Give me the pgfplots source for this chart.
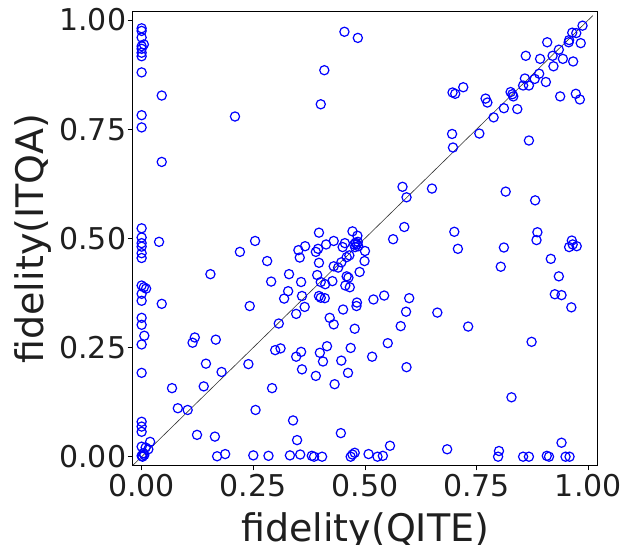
\documentclass[border=0pt]{standalone}
\usepackage{fontspec}
\setmainfont{DejaVu Sans}
\usepackage{pgfplots}
\pgfplotsset{compat=1.18}

\pgfplotstableread{
x y
0 0.981
0 0.975
0 0.960
0.005 0.944
0 0.940
0 0.934
0 0.925
0 0.917
0 0.880
0 0.782
0 0.754
0 0.523
0 0.502
0 0.489
0 0.481
0 0.466
0 0.455
0 0.392
0.005 0.388
0.010 0.385
0 0.373
0 0.357
0 0.318
0 0.302
0.006 0.277
0 0.257
0 0.192
0 0.080
0 0.069
0 0.057
0 0.023
0.019 0.034
0.009 0.021
0.015 0.017
0.004 0.008
0 0.002
0.002 0.000
0.006 0.004
}\zerocol

\pgfplotstableread{
x y
0.039 0.492
0.045 0.827
0.045 0.675
0.045 0.350
0.209 0.779
0.220 0.469
0.154 0.418
0.242 0.345
0.119 0.273
0.114 0.261
0.166 0.268
0.144 0.213
0.179 0.194
0.239 0.212
0.068 0.157
0.139 0.161
0.081 0.111
0.103 0.107
0.124 0.050
0.164 0.046
0.169 0.001
0.187 0.006
0.250 0.003
0.254 0.494
0.281 0.448
0.351 0.473
0.366 0.482
0.354 0.456
0.390 0.469
0.395 0.476
0.413 0.486
0.430 0.494
0.397 0.444
0.450 0.480
0.455 0.489
0.479 0.490
0.482 0.486
0.485 0.482
0.478 0.480
0.484 0.492
0.476 0.486
0.465 0.461
0.459 0.457
0.499 0.448
0.500 0.471
0.447 0.445
0.430 0.436
0.440 0.433
0.330 0.418
0.290 0.401
0.357 0.400
0.393 0.416
0.401 0.400
0.411 0.395
0.427 0.402
0.459 0.413
0.463 0.410
0.456 0.392
0.466 0.388
0.488 0.423
0.328 0.379
0.319 0.362
0.359 0.368
0.397 0.368
0.401 0.364
0.410 0.363
0.365 0.343
0.346 0.327
0.307 0.305
0.421 0.318
0.430 0.303
0.451 0.337
0.482 0.353
0.481 0.345
0.477 0.293
0.299 0.244
0.311 0.248
0.346 0.229
0.357 0.240
0.415 0.253
0.399 0.238
0.406 0.218
0.468 0.249
0.447 0.220
0.359 0.200
0.390 0.185
0.432 0.166
0.462 0.192
0.292 0.157
0.255 0.107
0.339 0.083
0.348 0.038
0.446 0.054
0.284 0.002
0.332 0.003
0.355 0.005
0.381 0.002
0.386 0.000
0.404 0.000
0.468 0.000
0.472 0.005
0.477 0.009
0.508 0.006
0.528 0.000
0.540 0.002
0.556 0.025
0.684 0.017
0.409 0.885
0.401 0.807
0.454 0.973
0.484 0.959
0.397 0.513
0.472 0.516
0.483 0.506
}\lowleft

\pgfplotstableread{
x y
0.584 0.618
0.593 0.594
0.650 0.614
0.588 0.526
0.563 0.498
0.700 0.515
0.708 0.476
0.811 0.479
0.815 0.607
0.881 0.587
0.886 0.514
0.884 0.496
0.916 0.453
0.804 0.435
0.934 0.413
0.963 0.495
0.957 0.480
0.974 0.482
0.965 0.486
0.925 0.372
0.940 0.370
0.962 0.342
0.873 0.263
0.828 0.136
0.940 0.032
0.800 0.013
0.798 0.000
0.854 0.000
0.867 0.000
0.907 0.002
0.912 0.000
0.949 0.000
0.958 0.000
0.662 0.330
0.731 0.298
0.599 0.363
0.592 0.332
0.580 0.299
0.593 0.205
0.551 0.260
0.543 0.369
0.519 0.360
0.516 0.229
0.987 0.987
0.964 0.971
0.973 0.970
0.957 0.954
0.956 0.949
0.983 0.947
0.908 0.949
0.934 0.932
0.920 0.918
0.943 0.911
0.966 0.905
0.860 0.918
0.892 0.911
0.922 0.894
0.890 0.877
0.880 0.865
0.858 0.866
0.905 0.858
0.854 0.850
0.867 0.850
0.826 0.835
0.830 0.830
0.832 0.825
0.937 0.825
0.972 0.831
0.981 0.818
0.811 0.798
0.841 0.796
0.788 0.777
0.867 0.724
0.770 0.820
0.774 0.811
0.696 0.834
0.702 0.831
0.720 0.846
0.695 0.739
0.697 0.708
0.756 0.740
}\upright

\begin{document}
\begin{tikzpicture}
\begin{axis}[
    scale only axis,
    width=465pt, height=453.6pt,
    xmin=-0.02, xmax=1.021,
    ymin=-0.0197, ymax=1.019,
    xtick={0,0.25,0.5,0.75,1},
    ytick={0,0.25,0.5,0.75,1},
    xticklabels={0.00,0.25,0.50,0.75,1.00},
    yticklabels={0.00,0.25,0.50,0.75,1.00},
    tick align=outside,
    xtick pos=bottom, ytick pos=left,
    major tick length=5pt,
    tick style={black, line width=0.8pt},
    axis line style={black, line width=0.8pt},
    ticklabel style={font=\fontsize{30}{30}\selectfont, text=black!88},
    yticklabel style={xshift=2pt},
    xlabel={fidelity(QITE)},
    ylabel={fidelity(ITQA)},
    label style={font=\fontsize{38}{38}\selectfont, text=black!88},
    xlabel style={at={(axis description cs:0.5,0)}, anchor=base, yshift=-76pt},
    ylabel style={at={(axis description cs:-0.192,0.5)}, anchor=base, rotate=0},
]
\addplot[black!80, line width=0.6pt] coordinates {(-0.02,-0.02) (1.01,1.01)};
\addplot[only marks, mark=o, mark size=4.6pt, blue, mark options={line width=1.2pt}] table {\zerocol};
\addplot[only marks, mark=o, mark size=4.6pt, blue, mark options={line width=1.2pt}] table {\lowleft};
\addplot[only marks, mark=o, mark size=4.6pt, blue, mark options={line width=1.2pt}] table {\upright};
\end{axis}
\pgfresetboundingbox
\useasboundingbox (-132.7pt,-78.7pt) rectangle (493.3pt,465.3pt);
\end{tikzpicture}
\end{document}
